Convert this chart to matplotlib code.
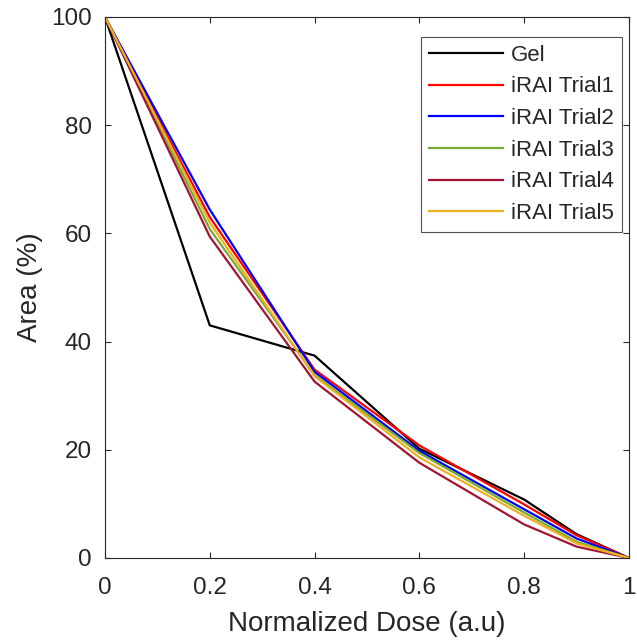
import matplotlib
matplotlib.use("Agg")
import matplotlib.pyplot as plt

plt.rcParams['font.family'] = ['Liberation Sans', 'DejaVu Sans']

dose = [0, 0.2, 0.4, 0.6, 0.8, 0.9, 1.0]
gel = [100, 43.0, 37.4, 20.2, 10.8, 4.4, 0]
trial1 = [100, 63.0, 34.8, 20.8, 9.9, 4.2, 0]
trial2 = [100, 64.4, 34.4, 19.8, 9.0, 3.6, 0]
trial3 = [100, 60.8, 33.8, 19.4, 8.4, 3.0, 0]
trial4 = [100, 59.4, 32.6, 17.6, 6.2, 2.1, 0]
trial5 = [100, 62.0, 33.6, 18.6, 7.8, 2.7, 0]

series = [gel, trial1, trial2, trial3, trial4, trial5]
labels = ['Gel', 'iRAI Trial1', 'iRAI Trial2', 'iRAI Trial3', 'iRAI Trial4', 'iRAI Trial5']
colors = ['#000000', '#ff0000', '#0000ff', '#77ac30', '#a2142f', '#edb120']

xticks = [0, 0.2, 0.4, 0.6, 0.8, 1]
xticklabels = ['0', '0.2', '0.4', '0.6', '0.8', '1']
yticks = [0, 20, 40, 60, 80, 100]

fig = plt.figure(figsize=(6.37, 6.41), dpi=100)
ax = fig.add_axes([0.1648, 0.1295, 0.8226, 0.844])

for vals, lab, col in zip(series, labels, colors):
    ax.plot(dose, vals, color=col, lw=1.6, label=lab)

ax.set_xlim(0, 1)
ax.set_ylim(0, 100)
ax.set_xticks(xticks)
ax.set_xticklabels(xticklabels)
ax.set_yticks(yticks)

text_col = '#262626'
for sp in ax.spines.values():
    sp.set_color(text_col)
    sp.set_linewidth(0.8)
ax.tick_params(direction='in', length=4, width=0.8, colors=text_col,
               labelsize=17.5, top=True, right=True)
ax.tick_params(axis='x', pad=14)
ax.tick_params(axis='y', pad=9.5)

ax.set_xlabel('Normalized Dose (a.u)', fontsize=20, color=text_col, labelpad=8)
ax.set_ylabel('Area (%)', fontsize=20, color=text_col, labelpad=6)

leg = ax.legend(loc='upper right', fontsize=16, frameon=True, fancybox=False,
                edgecolor=text_col, handlelength=3.35, handletextpad=0.35,
                borderpad=0.35, labelspacing=0.48, borderaxespad=0.0,
                bbox_to_anchor=(0.9866, 0.963))
leg.get_frame().set_linewidth(0.8)
for t in leg.get_texts():
    t.set_color(text_col)

fig.savefig('out.png', dpi=100, facecolor='white')
